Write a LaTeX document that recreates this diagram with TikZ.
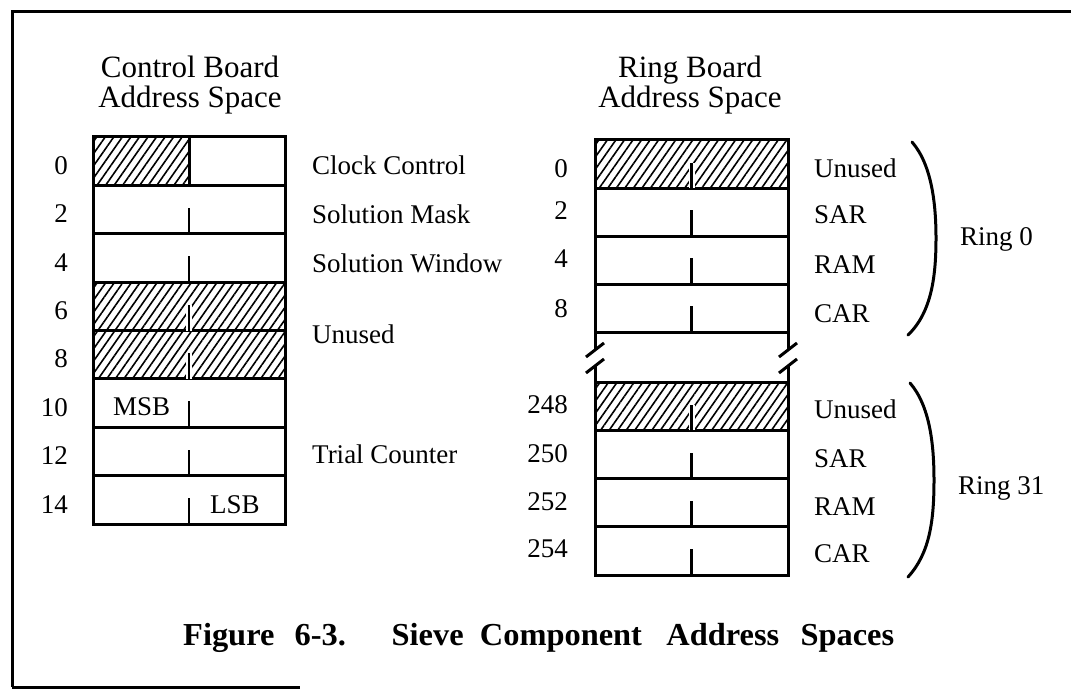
\documentclass[tikz,border=0pt]{standalone}
\usepackage{fontspec}
\setmainfont{Liberation Serif}
\usepackage{graphicx}
\usetikzlibrary{patterns.meta}
\begin{document}
\begin{tikzpicture}[x=1pt,y=-1pt,
  frame/.style={line width=3pt},
  cellL/.style={draw, line width=3pt, minimum width=192pt, minimum height=48.375pt, inner sep=0pt, outer sep=0pt, anchor=north west},
  cellR/.style={draw, line width=3pt, minimum width=193pt, minimum height=48pt, inner sep=0pt, outer sep=0pt, anchor=north west},
  cellS/.style={cellR, minimum height=48.25pt},
  hatch/.style={pattern={Lines[angle=55,distance=7pt,line width=1.6pt]}},
  tick/.style={line width=2.2pt},
  hatchtick/.style={line width=2.2pt, preaction={draw=white, line width=6pt}},
  cellline/.style={line width=3pt},
  slash/.style={line width=3pt},
  brace/.style={line width=3pt, line cap=round},
  lbl/.style={font=\fontsize{27}{32}\selectfont, inner sep=0pt},
  ttl/.style={font=\fontsize{31}{36}\selectfont, inner sep=0pt, anchor=base}]
\useasboundingbox (0,0) rectangle (1071,690);
% outer frame
\draw[frame] (12,687) -- (12,12) -- (1071,12);
\draw[frame] (12,687) -- (300,687);

% titles
\node[ttl] (tc1) at (190,78) {Control Board};
\node[ttl] (tc2) at (190,108) {Address Space};
\node[ttl] (tr1) at (690,78) {Ring Board};
\node[ttl] (tr2) at (690,108) {Address Space};

% control board cells
\node[cellL] (c0) at (93,137) {};
\node[cellL, minimum width=96pt, hatch] (c0a) at (93,137) {};
\node[cellL] (c1) at (93,185.375) {};
\node[cellL] (c2) at (93,233.75) {};
\node[cellL, hatch] (c3) at (93,282.125) {};
\node[cellL, hatch] (c4) at (93,330.5) {};
\node[cellL] (c5) at (93,378.875) {};
\node[cellL] (c6) at (93,427.25) {};
\node[cellL] (c7) at (93,475.625) {};
\draw[tick] (c1.south) -- ++(0,-26);
\draw[tick] (c2.south) -- ++(0,-26);
\draw[hatchtick] (c3.south) -- ++(0,-26);
\draw[hatchtick] (c4.south) -- ++(0,-26);
\draw[tick] (c5.south) -- ++(0,-26);
\draw[tick] (c6.south) -- ++(0,-26);
\draw[tick] (c7.south) -- ++(0,-26);

% control board numbers
\node[lbl, anchor=base east] (a0) at (68,174.4) {0};
\node[lbl, anchor=base east] (a2) at (68,222.75) {2};
\node[lbl, anchor=base east] (a4) at (68,271.1) {4};
\node[lbl, anchor=base east] (a6) at (68,319.5) {6};
\node[lbl, anchor=base east] (a8) at (68,367.9) {8};
\node[lbl, anchor=base east] (a10) at (68,416.25) {10};
\node[lbl, anchor=base east] (a12) at (68,464.6) {12};
\node[lbl, anchor=base east] (a14) at (68,513) {14};

% control board labels
\node[lbl, anchor=base west] (l0) at (312,175) {Clock Control};
\node[lbl, anchor=base west] (l1) at (312,223) {Solution Mask};
\node[lbl, anchor=base west] (l2) at (312,272) {Solution Window};
\node[lbl, anchor=base west] (l3) at (312,343) {Unused};
\node[lbl, anchor=base west] (l4) at (312,463) {Trial Counter};
\node[lbl, anchor=base west] (msb) at (113,415) {MSB};
\node[lbl, anchor=base west] (lsb) at (210,513) {LSB};

% ring board cells
\node[cellR, hatch] (r0) at (595,140) {};
\node[cellR] (r1) at (595,188) {};
\node[cellR] (r2) at (595,236) {};
\node[cellR] (r3) at (595,284) {};
\node[cellS, hatch] (s0) at (595,382) {};
\node[cellS] (s1) at (595,430.25) {};
\node[cellS] (s2) at (595,478.5) {};
\node[cellS] (s3) at (595,526.75) {};
\draw[hatchtick] (r0.south) -- ++(0,-25);
\draw[tick] (r1.south) -- ++(0,-26);
\draw[tick] (r2.south) -- ++(0,-26);
\draw[tick] (r3.south) -- ++(0,-26);
\draw[hatchtick] (s0.south) -- ++(0,-25);
\draw[tick] (s1.south) -- ++(0,-26);
\draw[tick] (s2.south) -- ++(0,-26);
\draw[tick] (s3.south) -- ++(0,-26);

% break in the ring board column
\draw[cellline] (r3.south west) -- ++(0,18) (s0.north west) -- ++(0,-16);
\draw[cellline] (r3.south east) -- ++(0,18) (s0.north east) -- ++(0,-16);
\draw[slash] ([shift={(-9,25)}]r3.south west) -- ++(18,-14);
\draw[slash] ([shift={(-9,41)}]r3.south west) -- ++(18,-14);
\draw[slash] ([shift={(-9,25)}]r3.south east) -- ++(18,-14);
\draw[slash] ([shift={(-9,41)}]r3.south east) -- ++(18,-14);

% ring board numbers
\node[lbl, anchor=base east] (b0) at (568,177) {0};
\node[lbl, anchor=base east] (b2) at (568,219) {2};
\node[lbl, anchor=base east] (b4) at (568,267) {4};
\node[lbl, anchor=base east] (b8) at (568,317) {8};
\node[lbl, anchor=base east] (b248) at (568,413) {248};
\node[lbl, anchor=base east] (b250) at (568,462) {250};
\node[lbl, anchor=base east] (b252) at (568,510) {252};
\node[lbl, anchor=base east] (b254) at (568,557) {254};

% ring board labels
\node[lbl, anchor=base west] (m0) at (814,178) {Unused};
\node[lbl, anchor=base west] (m1) at (814,223) {SAR};
\node[lbl, anchor=base west] (m2) at (814,273) {RAM};
\node[lbl, anchor=base west] (m3) at (814,322) {CAR};
\node[lbl, anchor=base west] (p0) at (814,418) {Unused};
\node[lbl, anchor=base west] (p1) at (814,467) {SAR};
\node[lbl, anchor=base west] (p2) at (814,515) {RAM};
\node[lbl, anchor=base west] (p3) at (814,562) {CAR};

% braces
\coordinate (g0t) at (912,142);
\coordinate (g0m) at (936,238);
\coordinate (g0b) at (908,335);
\coordinate (g1t) at (910,383);
\coordinate (g1m) at (934,480);
\coordinate (g1b) at (908,577);
\draw[brace] (g0t) .. controls (932,165) and (936,205) .. (g0m) .. controls (936,275) and (932,312) .. (g0b);
\draw[brace] (g1t) .. controls (930,406) and (934,445) .. (g1m) .. controls (934,520) and (930,553) .. (g1b);
\node[lbl, anchor=base west] (ring0) at (960,245) {Ring 0};
\node[lbl, anchor=base west] (ring31) at (958,494) {Ring 31};

% caption
\node[anchor=base west, inner sep=0pt] (cap) at (183,645) {\resizebox{711pt}{\height}{\bfseries\fontsize{32}{38}\selectfont Figure\hspace{20pt}6-3.\hspace{45pt}Sieve\hspace{16pt}Component\hspace{24pt}Address\hspace{21pt}Spaces}};
\end{tikzpicture}
\end{document}
